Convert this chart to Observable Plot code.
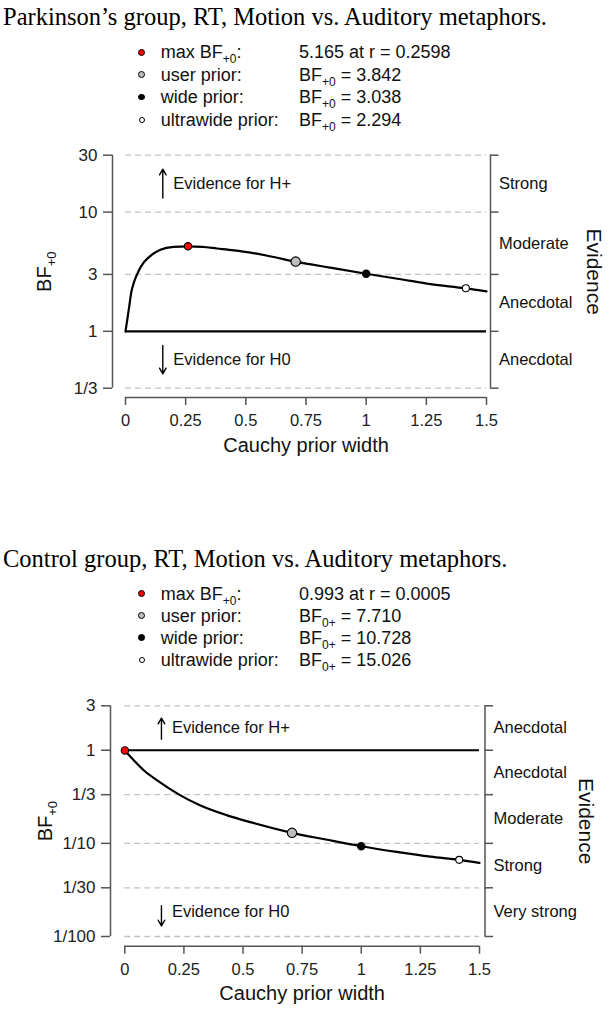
<!DOCTYPE html>
<html><head><meta charset="utf-8">
<script src="https://cdn.jsdelivr.net/npm/d3@7"></script>
<script src="https://cdn.jsdelivr.net/npm/@observablehq/plot@0.6"></script>
<style>
body{margin:0;background:#fff}
#page{position:relative;width:610px;height:1010px;overflow:hidden;font-family:"Liberation Sans",Arial,sans-serif;color:#111}
.title{position:absolute;left:3px;font-family:"Liberation Serif","Times New Roman",serif;font-size:24.5px;line-height:25px;white-space:nowrap;color:#000}
.row{position:absolute;left:0;width:610px;height:22px;line-height:22px;font-size:18px;white-space:nowrap;color:#111}
.row span{position:absolute;top:0}
.row span.dot{border:1px solid #000;border-radius:50%;box-sizing:border-box}
sub{font-size:12px;vertical-align:-5px;line-height:0}
.chart{position:absolute;left:0}
</style></head><body><div id="page"></div>
<script>
// ---------- data ----------
const xTicks = [0, 0.25, 0.5, 0.75, 1, 1.25, 1.5];
const xTickLabels = ["0", "0.25", "0.5", "0.75", "1", "1.25", "1.5"];

const title1 = "Parkinson’s group, RT, Motion vs. Auditory metaphors.";
const legendNames1 = ["max BF+0:", "user prior:", "wide prior:", "ultrawide prior:"];
const legendValues1 = ["5.165 at r = 0.2598", "BF+0 = 3.842", "BF+0 = 3.038", "BF+0 = 2.294"];
const rCurve1 = [0, 0.006, 0.014, 0.024, 0.035, 0.055, 0.076, 0.104, 0.145, 0.2, 0.2598, 0.32, 0.38, 0.45, 0.52, 0.6, 0.707, 0.85, 1.0, 1.15, 1.267, 1.414, 1.5];
const bfCurve1 = [1, 1.2, 1.54, 2.12, 2.57, 3.22, 3.78, 4.30, 4.83, 5.11, 5.165, 5.1, 4.95, 4.78, 4.57, 4.26, 3.842, 3.42, 3.038, 2.72, 2.49, 2.294, 2.16];
const rPoints1 = [0.2598, 0.7071, 1, 1.4142];
const bfPoints1 = [5.165, 3.842, 3.038, 2.294];
const yTicks1 = [1/3, 1, 3, 10, 30];
const yTickLabels1 = ["1/3", "1", "3", "10", "30"];
const evidence1 = ["Anecdotal", "Anecdotal", "Moderate", "Strong"];
const arrowUp1 = [13.1, 22.9];
const arrowDown1 = [0.76, 0.44];

const title2 = "Control group, RT, Motion vs. Auditory metaphors.";
const legendNames2 = ["max BF+0:", "user prior:", "wide prior:", "ultrawide prior:"];
const legendValues2 = ["0.993 at r = 0.0005", "BF0+ = 7.710", "BF0+ = 10.728", "BF0+ = 15.026"];
const rCurve2 = [0, 0.038, 0.08, 0.137, 0.228, 0.32, 0.433, 0.531, 0.707, 0.85, 1.0, 1.15, 1.293, 1.414, 1.5];
const bfCurve2 = [0.993, 0.78, 0.61, 0.475, 0.336, 0.255, 0.20, 0.169, 0.1297, 0.110, 0.0932, 0.081, 0.072, 0.0666, 0.0618];
const rPoints2 = [0.0005, 0.7071, 1, 1.4142];
const bfPoints2 = [0.993, 1 / 7.710, 1 / 10.728, 1 / 15.026];
const yTicks2 = [1/100, 1/30, 1/10, 1/3, 1, 3];
const yTickLabels2 = ["1/100", "1/30", "1/10", "1/3", "1", "3"];
const evidence2 = ["Very strong", "Strong", "Moderate", "Anecdotal", "Anecdotal"];
const arrowUp2 = [1.31, 2.21];
const arrowDown2 = [0.0214, 0.013];

const arrowX = 0.155;
const evidenceFor = ["Evidence for H+", "Evidence for H0"];

// ---------- styles ----------
const pointFill = ["#ff0000", "#bebebe", "#000000", "#ffffff"];
const pointR = [3.7, 4.7, 3.7, 3.5];
const legendR = [3.5, 3.7, 3.3, 3.0];

const page = document.getElementById("page");
const subify = s => s.replace(/BF(\+0|0\+)/g, "BF<sub>$1</sub>");

function header(title, names, values, titleCenter, rows) {
  const t = document.createElement("div");
  t.className = "title";
  t.style.top = (titleCenter - 12.5) + "px";
  t.textContent = title;
  page.appendChild(t);
  names.forEach((n, i) => {
    const row = document.createElement("div");
    row.className = "row";
    row.style.top = (rows[i] - 11) + "px";
    const r = legendR[i];
    row.innerHTML =
      `<span class="dot" style="left:${141.7 - r}px;top:${11 - r}px;width:${2*r}px;height:${2*r}px;background:${pointFill[i]}"></span>` +
      `<span style="left:160.7px">${subify(n)}</span>` +
      `<span style="left:299px">${subify(values[i])}</span>`;
    page.appendChild(row);
  });
}

function chart(c) {
  const yt = c.yTicks;
  const ymin = yt[0], ymax = yt[yt.length - 1];
  const mid = (a, b) => Math.sqrt(a * b);
  const bands = c.evidence.map((t, i) => ({y: mid(yt[i], yt[i + 1]), t}));
  const curve = c.r.map((r, i) => ({r, bf: c.bf[i]}));
  const pts = c.rp.map((r, i) => ({r, bf: c.bfp[i], i}));
  const yTickData = yt.map((v, i) => ({v, label: c.yLabels[i]}));
  const xlab = new Map(xTicks.map((v, i) => [v, xTickLabels[i]]));
  const evText = [
    {y: bands[bands.length - 1].y, t: evidenceFor[0]},
    {y: bands[0].y, t: evidenceFor[1]}
  ];
  const frameW = 610 - c.m.left - c.m.right;
  const axisColor = "#555";
  const plot = Plot.plot({
    width: 610, height: 330,
    marginTop: c.m.top, marginBottom: c.m.bottom, marginLeft: c.m.left, marginRight: c.m.right,
    x: {domain: [0, 1.5], axis: null},
    y: {type: "log", domain: [ymin, ymax], axis: null},
    style: {fontFamily: '"Liberation Sans", Arial, sans-serif', background: "transparent", overflow: "visible"},
    marks: [
      Plot.ruleY(yt.filter(v => v !== 1), {x1: 0, x2: 1.5, stroke: "#c2c2c2", strokeWidth: 1.3, strokeDasharray: "6,4"}),
      Plot.ruleY([1], {x1: 0, x2: 1.5, stroke: "#000", strokeWidth: 2.2}),
      // left axis
      Plot.ruleX([0], {y1: ymin, y2: ymax, dx: c.leftDx, stroke: axisColor, strokeWidth: 1.5}),
      Plot.ruleY(yTickData, {y: "v", dx: c.leftDx - 9, insetRight: frameW - 9, stroke: axisColor, strokeWidth: 1.5}),
      Plot.text(yTickData, {y: "v", text: "label", frameAnchor: "left", dx: c.leftDx - 15, textAnchor: "end", lineAnchor: "middle", fontSize: 17, fill: "#222"}),
      // right axis
      Plot.ruleX([1.5], {y1: ymin, y2: ymax, dx: c.rightDx, stroke: axisColor, strokeWidth: 1.5}),
      Plot.ruleY(yTickData, {y: "v", dx: c.rightDx + 8.5, insetLeft: frameW - 8.5, stroke: axisColor, strokeWidth: 1.5}),
      Plot.text(bands, {y: "y", text: "t", frameAnchor: "right", dx: c.rightDx + 8.5, textAnchor: "start", lineAnchor: "middle", fontSize: 16.5, fill: "#111"}),
      // bottom axis
      Plot.ruleY([ymin], {x1: 0, x2: 1.5, dy: c.axisDy, stroke: axisColor, strokeWidth: 1.5}),
      Plot.axisX(xTicks, {anchor: "bottom", tickSize: 8, tickPadding: 9, dy: c.axisDy, tickFormat: d => xlab.get(d), fontSize: 16.5, color: "#222", stroke: axisColor, strokeWidth: 1.5, label: null}),
      Plot.text(["Cauchy prior width"], {text: d => d, frameAnchor: "bottom", dy: c.xlabDy, lineAnchor: "middle", textAnchor: "middle", fontSize: 20, fill: "#111"}),
      Plot.text(["BF+0"], {text: d => d, frameAnchor: "left", dx: c.bfDx, rotate: -90, textAnchor: "middle", lineAnchor: "middle", fontSize: 20, fill: "#111"}),
      Plot.text(["Evidence"], {text: d => d, frameAnchor: "right", dx: c.evDx, rotate: 90, textAnchor: "middle", lineAnchor: "middle", fontSize: 21, fill: "#111"}),
      // evidence arrows
      Plot.arrow([c.up, c.down], {x1: () => arrowX, x2: () => arrowX, y1: d => d[0], y2: d => d[1], stroke: "#000", strokeWidth: 1.4, headLength: 7}),
      Plot.text(evText, {x: () => arrowX, y: "y", text: "t", dx: 10.5, textAnchor: "start", lineAnchor: "middle", fontSize: 16.5, fill: "#111"}),
      // curve and points
      Plot.line(curve, {x: "r", y: "bf", curve: "monotone-x", stroke: "#000", strokeWidth: 2.2}),
      ...pts.map(p => Plot.dot([p], {x: "r", y: "bf", r: pointR[p.i], fill: pointFill[p.i], stroke: "#000", strokeWidth: 1.1}))
    ]
  });
  plot.querySelectorAll("text").forEach(t => {
    if (t.textContent === "BF+0") {
      t.textContent = "BF";
      const ts = document.createElementNS("http://www.w3.org/2000/svg", "tspan");
      ts.setAttribute("font-size", "13");
      ts.setAttribute("dy", "5");
      ts.textContent = "+0";
      t.appendChild(ts);
    }
  });
  plot.classList.add("chart");
  plot.style.position = "absolute";
  plot.style.top = c.top + "px";
  plot.style.left = "0px";
  page.appendChild(plot);
}

header(title1, legendNames1, legendValues1, 16, [52, 74.5, 97, 119.5]);
chart({top: 130, m: {top: 24.7, bottom: 72.3, left: 125, right: 124}, leftDx: -13, rightDx: 4, axisDy: 9.3, xlabDy: 57.3, bfDx: -81, evDx: 107,
  yTicks: yTicks1, yLabels: yTickLabels1, evidence: evidence1, r: rCurve1, bf: bfCurve1, rp: rPoints1, bfp: bfPoints1, up: arrowUp1, down: arrowDown1});

header(title2, legendNames2, legendValues2, 558, [593.5, 615.5, 637.5, 659.5]);
chart({top: 680, m: {top: 25.3, bottom: 74, left: 124.3, right: 131}, leftDx: -14.3, rightDx: 5.5, axisDy: 9.7, xlabDy: 57.3, bfDx: -79.3, evDx: 106.6,
  yTicks: yTicks2, yLabels: yTickLabels2, evidence: evidence2, r: rCurve2, bf: bfCurve2, rp: rPoints2, bfp: bfPoints2, up: arrowUp2, down: arrowDown2});
</script></body></html>
